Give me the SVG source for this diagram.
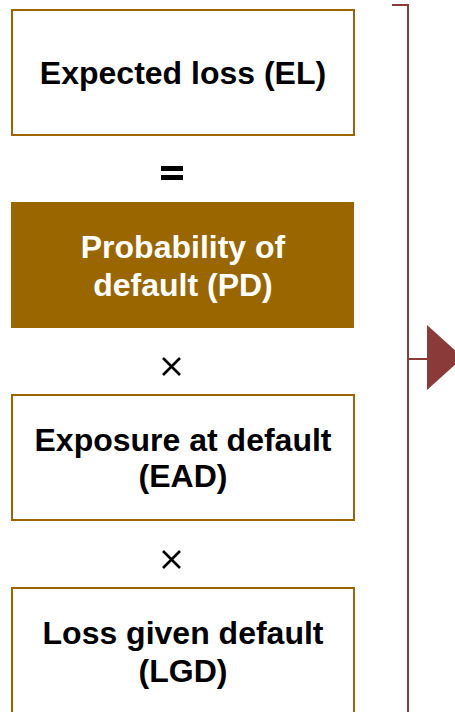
<svg xmlns="http://www.w3.org/2000/svg" width="455" height="712" viewBox="0 0 455 712">
  <style>
    .box { fill: #ffffff; stroke: #9c6500; stroke-width: 2; }
    .box-filled { fill: #996600; stroke: none; }
    .label { font-family: "Liberation Sans", Arial, sans-serif; font-weight: bold; font-size: 32px; text-anchor: middle; fill: #000000; }
    .label-light { fill: #ffffff; }
    .op { stroke: #000000; stroke-width: 2.6; fill: none; }
    .bracket { fill: none; stroke: #8b3a3a; stroke-width: 2; }
    .pointer { fill: #8b3a3a; stroke: none; }
  </style>

  <g id="node-el">
    <rect class="box" x="12" y="10" width="342" height="125"/>
    <text class="label" x="183" y="84">Expected loss (EL)</text>
  </g>

  <g id="op-equals">
    <rect x="161" y="166" width="22" height="5" fill="#000000"/>
    <rect x="161" y="175" width="22" height="5" fill="#000000"/>
  </g>

  <g id="node-pd">
    <rect class="box-filled" x="11" y="202" width="343" height="126"/>
    <text class="label label-light" x="183" y="258">Probability of</text>
    <text class="label label-light" x="183" y="296">default (PD)</text>
  </g>

  <g id="op-times-1">
    <path class="op" d="M163 358 L180 375 M180 358 L163 375"/>
  </g>

  <g id="node-ead">
    <rect class="box" x="12" y="395" width="342" height="125"/>
    <text class="label" x="183" y="451">Exposure at default</text>
    <text class="label" x="183" y="487">(EAD)</text>
  </g>

  <g id="op-times-2">
    <path class="op" d="M163 551 L180 568 M180 551 L163 568"/>
  </g>

  <g id="node-lgd">
    <rect class="box" x="12" y="588" width="342" height="140"/>
    <text class="label" x="183" y="644">Loss given default</text>
    <text class="label" x="183" y="682">(LGD)</text>
  </g>

  <g id="connectors">
    <path class="bracket" d="M392 5 L408 5 L408 712"/>
    <path class="bracket" d="M408 359 L427 359"/>
    <polygon class="pointer" points="427,325 463,357.5 427,390"/>
  </g>
</svg>
